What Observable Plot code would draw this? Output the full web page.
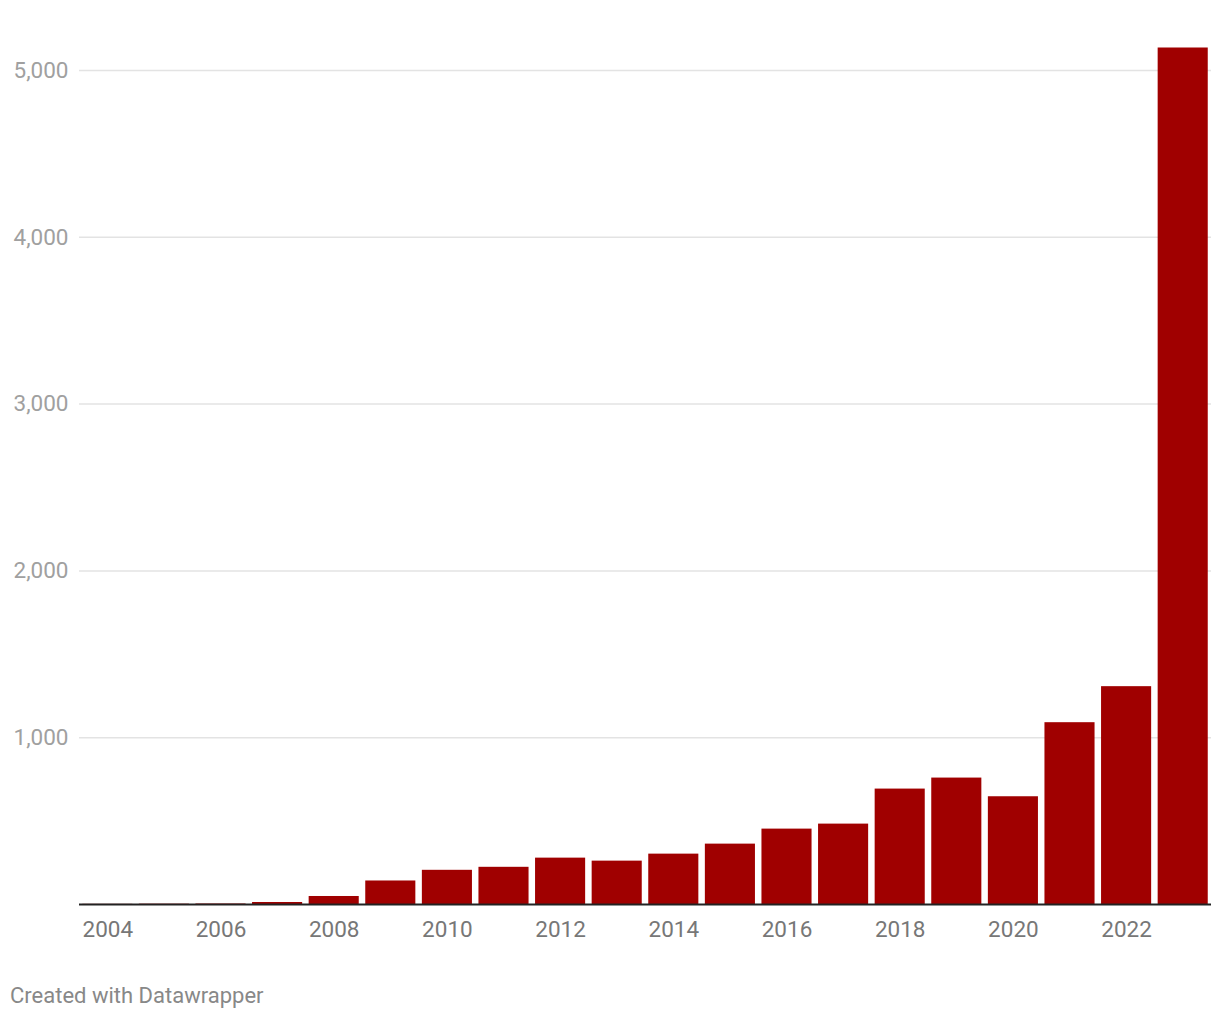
<!DOCTYPE html>
<html>
<head>
<meta charset="utf-8">
<script src="https://cdn.jsdelivr.net/npm/d3@7"></script>
<script src="https://cdn.jsdelivr.net/npm/@observablehq/plot@0.6"></script>
<style>
  html, body { margin: 0; padding: 0; background: #fff; }
  body { width: 1220px; height: 1020px; font-family: Roboto, "Noto Sans", sans-serif; }
  #caption { margin: 23px 0 0 10px; font-size: 22px; line-height: 26px; color: #888; font-family: Roboto, sans-serif; }
</style>
</head>
<body>
<div id="chart"></div>
<div id="caption">Created with Datawrapper</div>
<script>
const years = [2004, 2005, 2006, 2007, 2008, 2009, 2010, 2011, 2012, 2013, 2014, 2015, 2016, 2017, 2018, 2019, 2020, 2021, 2022, 2023];
const values = [1, 2, 3, 12, 48, 141, 205, 223, 278, 260, 302, 362, 452, 482, 692, 758, 646, 1090, 1306, 5135];
const yTicks = [1000, 2000, 3000, 4000, 5000];
const xTickLabels = [2004, 2006, 2008, 2010, 2012, 2014, 2016, 2018, 2020, 2022];

const data = years.map((y, i) => ({year: y, value: values[i]}));

const chart = Plot.plot({
  width: 1220,
  height: 960,
  marginTop: 45,
  marginBottom: 56,
  marginLeft: 79,
  marginRight: 9,
  style: {fontFamily: "Roboto, sans-serif", background: "#fff"},
  x: {domain: years, paddingInner: 0.115, paddingOuter: 0.0575, round: false, label: null},
  y: {domain: [0, 5150], label: null},
  marks: [
    Plot.gridY(yTicks, {stroke: "#e3e3e3", strokeOpacity: 1, strokeWidth: 1.5}),
    Plot.barY(data, {x: "year", y: "value", fill: "#a00000"}),
    Plot.ruleY([0], {stroke: "#222", strokeWidth: 2}),
    Plot.axisY(yTicks, {anchor: "left", tickSize: 0, tickPadding: 11, tickFormat: d3.format(","), fontSize: 22.5, fill: "#a0a0a0", label: null}),
    Plot.axisX(xTickLabels, {anchor: "bottom", tickSize: 0, tickPadding: 17, tickFormat: d => String(d), fontSize: 22.5, fill: "#777", label: null})
  ]
});
document.getElementById("chart").appendChild(chart);
</script>
</body>
</html>
